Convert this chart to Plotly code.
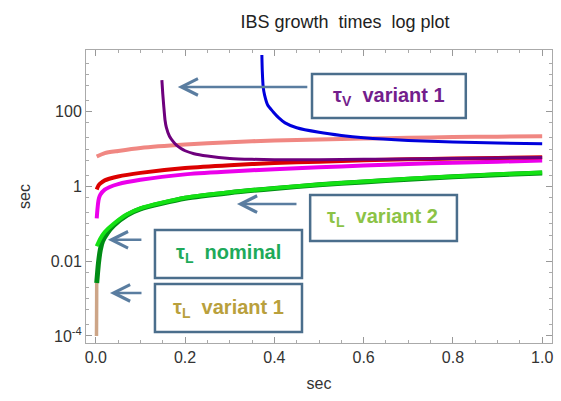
import plotly.graph_objects as go

# ---- data ----
salmon_x = [0.002, 0.02, 0.05, 0.1, 0.2, 0.3, 0.4, 0.5, 0.6, 0.7, 0.8, 0.9, 1.0]
salmon_y = [6.3, 7.8, 8.9, 10.7, 13.2, 15.2, 17.0, 18.0, 19.0, 20.0, 20.9, 21.4, 21.9]

red_x = [0.002, 0.004, 0.007, 0.01, 0.02, 0.03, 0.05, 0.1, 0.2, 0.3, 0.4, 0.5, 0.6, 0.7, 0.8, 0.9, 1.0]
red_y = [0.83, 0.95, 1.1, 1.2, 1.45, 1.6, 1.85, 2.3, 3.1, 3.7, 4.2, 4.6, 5.0, 5.3, 5.6, 5.8, 6.0]

magenta_x = [0.002, 0.003, 0.005, 0.007, 0.01, 0.02, 0.03, 0.05, 0.1, 0.2, 0.3, 0.4, 0.5, 0.6, 0.7, 0.8, 0.9, 1.0]
magenta_y = [0.14, 0.2, 0.35, 0.48, 0.6, 0.82, 0.95, 1.15, 1.5, 2.1, 2.5, 2.9, 3.25, 3.6, 4.0, 4.3, 4.6, 4.9]

purple_x = [0.148, 0.150, 0.152, 0.155, 0.158, 0.165, 0.173, 0.18, 0.19, 0.2, 0.22, 0.25, 0.3, 0.35, 0.4, 0.5, 0.6, 0.7, 0.8, 0.9, 1.0]
purple_y = [700, 300, 150, 60, 38, 22, 16, 13, 10.5, 9.0, 7.5, 6.5, 5.6, 5.3, 5.2, 5.2, 5.3, 5.4, 5.6, 5.8, 5.9]

blue_x = [0.372, 0.373, 0.375, 0.378, 0.385, 0.397, 0.41, 0.424, 0.45, 0.5, 0.55, 0.6, 0.7, 0.8, 0.9, 1.0]
blue_y = [3300, 1200, 460, 280, 150, 100, 68, 50, 37, 28, 23, 20, 17, 15.5, 14.5, 13.8]

tan_x = [0.0015, 0.0017, 0.0019, 0.002]
tan_y = [0.0001, 0.0003, 0.001, 0.0026]

dkgreen_x = [0.002, 0.004, 0.006, 0.01, 0.015, 0.025, 0.04, 0.07, 0.1, 0.2, 0.3, 0.4, 0.5, 0.6, 0.7, 0.8, 0.9, 1.0]
dkgreen_y = [0.0026, 0.005, 0.009, 0.02, 0.034, 0.055, 0.09, 0.17, 0.25, 0.48, 0.68, 0.88, 1.1, 1.32, 1.56, 1.82, 2.05, 2.3]

green_x = [0.002, 0.01, 0.02, 0.04, 0.07, 0.1, 0.2, 0.3, 0.4, 0.5, 0.6, 0.7, 0.8, 0.9, 1.0]
green_y = [0.025, 0.04, 0.06, 0.1, 0.18, 0.26, 0.5, 0.7, 0.9, 1.12, 1.35, 1.6, 1.85, 2.1, 2.35]

x_ticks = [0.0, 0.2, 0.4, 0.6, 0.8, 1.0]
x_ticklabels = ["0.0", "0.2", "0.4", "0.6", "0.8", "1.0"]
y_ticks = [1e-4, 1e-2, 1, 100]
y_ticklabels = ["10<sup>-4</sup>", "0.01", "1", "100"]

fig = go.Figure()

def add(x, y, color, width):
    fig.add_trace(go.Scatter(x=x, y=y, mode="lines", line=dict(color=color, width=width, shape="spline", smoothing=0.6),
                             showlegend=False, hoverinfo="skip"))

add(salmon_x, salmon_y, "rgb(240,135,130)", 4)
add(tan_x, tan_y, "rgb(205,165,135)", 3.5)
add(dkgreen_x, dkgreen_y, "rgb(0,140,20)", 5)
add(green_x, green_y, "rgb(20,225,20)", 4)
add(magenta_x, magenta_y, "rgb(235,0,235)", 4)
add(red_x, red_y, "rgb(220,0,0)", 4)
add(purple_x, purple_y, "rgb(110,0,125)", 3)
add(blue_x, blue_y, "rgb(0,0,220)", 3)

FONT = "Liberation Sans, Arial"
tickfont = dict(family=FONT, size=16, color="#333")

fig.update_xaxes(range=[-0.022, 1.022], tickvals=x_ticks, ticktext=x_ticklabels,
                 ticks="inside", ticklen=6, tickcolor="#999", mirror="allticks",
                 showline=True, linecolor="#aaa", linewidth=1, showgrid=False, zeroline=False,
                 tickfont=tickfont,
                 minor=dict(ticks="inside", ticklen=3, tickcolor="#aaa", dtick=0.05),
                 title=dict(text="sec", font=dict(family=FONT, size=16, color="#333"), standoff=12))

minor_y = []
for e in range(-5, 4):
    for k in (1, 2, 5):
        v = k * 10 ** e
        if v not in y_ticks:
            minor_y.append(v)

fig.update_yaxes(type="log", range=[-4.19, 3.65], tickvals=y_ticks, ticktext=y_ticklabels,
                 ticks="inside", ticklen=6, tickcolor="#999", mirror="allticks",
                 showline=True, linecolor="#aaa", linewidth=1, showgrid=False, zeroline=False,
                 tickfont=tickfont,
                 minor=dict(ticks="inside", ticklen=3, tickcolor="#aaa", tickvals=minor_y),
                 title=dict(text="sec", font=dict(family=FONT, size=16, color="#333"), standoff=16))

box_col = "rgb(75,110,140)"
arrow_col = "rgb(90,125,160)"
boxes = [
    (0.485, 0.768, 0.815, 0.918),
    (0.481, 0.348, 0.796, 0.505),
    (0.148, 0.222, 0.4635, 0.386),
    (0.148, 0.0375, 0.4635, 0.201),
]
for x0, y0, x1, y1 in boxes:
    fig.add_shape(type="rect", xref="paper", yref="paper", x0=x0, y0=y0, x1=x1, y1=y1,
                  line=dict(color=box_col, width=2.5), fillcolor="white")

labels = [
    (0.65, 0.843, "<b>τ<sub>V</sub>  variant 1</b>", "rgb(115,30,140)"),
    (0.637, 0.427, "<b>τ<sub>L</sub>  variant 2</b>", "rgb(140,195,70)"),
    (0.305, 0.304, "<b>τ<sub>L</sub>  nominal</b>", "rgb(30,170,90)"),
    (0.305, 0.119, "<b>τ<sub>L</sub>  variant 1</b>", "rgb(185,160,60)"),
]
for x, y, t, c in labels:
    fig.add_annotation(xref="paper", yref="paper", x=x, y=y, text=t, showarrow=False,
                       xanchor="center", yanchor="middle",
                       font=dict(family=FONT, size=20, color=c))

arrows = [
    (0.197, 0.874, 131),
    (0.324, 0.474, 61),
    (0.047, 0.352, 35),
    (0.0515, 0.171, 33),
]
for x, y, ax in arrows:
    fig.add_annotation(xref="paper", yref="paper", x=x, y=y, text="", showarrow=True,
                       ax=ax, ay=0, arrowhead=5, arrowsize=1.3, arrowwidth=2.5, arrowcolor=arrow_col)

fig.update_layout(
    width=561, height=401,
    margin=dict(l=86, r=9, t=50, b=58),
    paper_bgcolor="white", plot_bgcolor="white",
    title=dict(text="IBS growth  times  log plot", x=0.615, xanchor="center", y=0.945, yanchor="middle",
               font=dict(family=FONT, size=18, color="#222")),
)

fig.write_html("out.html")
